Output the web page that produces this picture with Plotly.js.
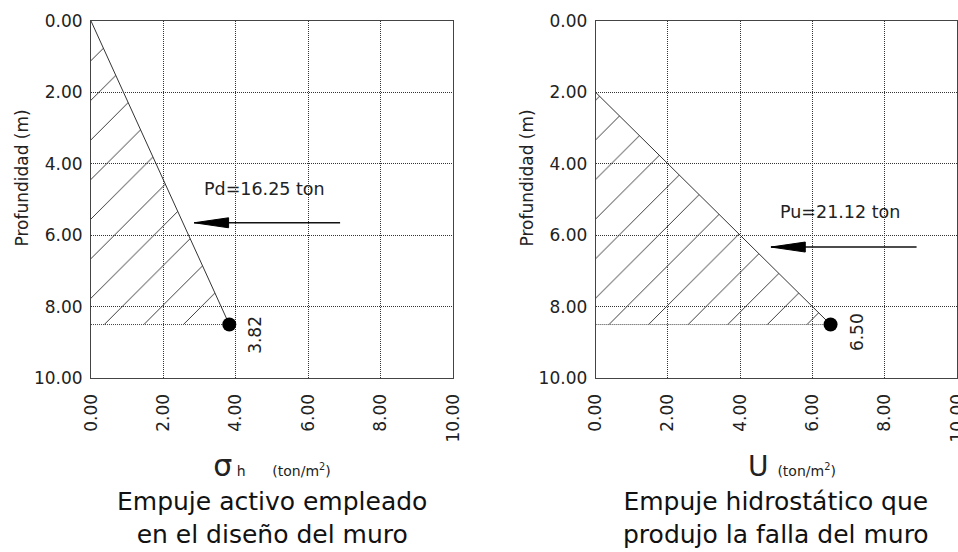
<!DOCTYPE html>
<html>
<head>
<meta charset="utf-8">
<script src="https://cdn.plot.ly/plotly-3.0.1.min.js"></script>
<style>html,body{margin:0;padding:0;background:#fff;}#chart{width:958px;height:552px;}</style>
</head>
<body>
<div id="chart"></div>
<script>
// ---- data ----
// Left: active earth pressure used in wall design
const sigmaX = [0, 3.82];          // sigma_h (ton/m2)
const sigmaDepth = [0, 8.5];       // depth (m)
const sigmaLabel = ['3.82'];
const pdArrowX = [6.88, 2.85];     // force arrow (tail, tip)
const pdArrowY = [5.65, 5.65];
const pdText = 'Pd=16.25 ton';
const pdTextPos = [4.78, 4.7];

// Right: hydrostatic pressure that caused failure
const uX = [0, 6.5];               // u (ton/m2)
const uDepth = [2, 8.5];           // depth (m)
const uLabel = ['6.50'];
const puArrowX = [8.88, 4.85];
const puArrowY = [6.33, 6.33];
const puText = 'Pu=21.12 ton';
const puTextPos = [6.76, 5.35];

const tickVals = [0, 2, 4, 6, 8, 10];
const tickText = ['0.00', '2.00', '4.00', '6.00', '8.00', '10.00'];
const captions = ['Empuje activo empleado<br>en el diseño del muro',
                  'Empuje hidrostático que<br>produjo la falla del muro'];

// ---- helpers ----
const FONT = 'DejaVu Sans, Arial, sans-serif';
const INK = '#222';
const GRID_DASH = '1px,1px';
const PAD8 = '&nbsp;'.repeat(8);

function panelTraces(xs, ys, arrX, arrY, xa, ya) {
  const x0 = xs[0], x1 = xs[1], y0 = ys[0], y1 = ys[1];
  const traces = [];
  // hatched region
  traces.push({
    x: [x0, x1, x0, x0], y: [y0, y1, y1, y0],
    xaxis: xa, yaxis: ya, type: 'scatter', mode: 'lines',
    fill: 'toself', fillcolor: 'rgba(0,0,0,0)',
    fillpattern: {shape: '/', fgcolor: '#3a3a3a', bgcolor: 'rgba(255,255,255,0)', size: 28, solidity: 0.035},
    line: {width: 0}, hoverinfo: 'skip', showlegend: false
  });
  // slanted pressure line
  traces.push({
    x: [x0, x1], y: [y0, y1], xaxis: xa, yaxis: ya, type: 'scatter', mode: 'lines',
    line: {color: '#333', width: 1}, hoverinfo: 'skip', showlegend: false
  });
  // dotted base line
  traces.push({
    x: [x0, x1], y: [y1, y1], xaxis: xa, yaxis: ya, type: 'scatter', mode: 'lines',
    line: {color: '#444', width: 1, dash: '1px,1px'}, hoverinfo: 'skip', showlegend: false
  });
  // end point
  traces.push({
    x: [x1], y: [y1], xaxis: xa, yaxis: ya, type: 'scatter', mode: 'markers',
    marker: {color: '#000', size: 14}, hoverinfo: 'skip', showlegend: false
  });
  // arrow shaft
  traces.push({
    x: arrX, y: arrY, xaxis: xa, yaxis: ya, type: 'scatter', mode: 'lines',
    line: {color: '#111', width: 1.6}, hoverinfo: 'skip', showlegend: false
  });
  // arrow head (narrow triangle at the tip)
  const tip = arrX[1], ay = arrY[1], L = 0.95, h = 0.14;
  traces.push({
    x: [tip, tip + L, tip + L, tip], y: [ay, ay - h, ay + h, ay],
    xaxis: xa, yaxis: ya, type: 'scatter', mode: 'lines', fill: 'toself',
    fillcolor: '#000', line: {color: '#000', width: 1}, hoverinfo: 'skip', showlegend: false
  });
  return traces;
}

const data = [].concat(
  panelTraces(sigmaX, sigmaDepth, pdArrowX, pdArrowY, 'x', 'y'),
  panelTraces(uX, uDepth, puArrowX, puArrowY, 'x2', 'y2')
);

function xAxis(domain, anchor, titleHtml) {
  return {
    domain: domain, anchor: anchor, range: [0, 10],
    tickmode: 'array', tickvals: tickVals, ticktext: tickText, tickangle: -90,
    ticks: '', ticklabelstandoff: 8, ticklabeloverflow: 'allow',
    tickfont: {family: FONT, size: 17, color: INK},
    showgrid: true, gridcolor: '#333', griddash: GRID_DASH, gridwidth: 1,
    zeroline: false, showline: true, mirror: true, linecolor: '#444', linewidth: 1,
    title: {text: titleHtml, font: {family: FONT, size: 14, color: INK}, standoff: 24},
    fixedrange: true
  };
}
function yAxis(domain, anchor) {
  return {
    domain: domain, anchor: anchor, range: [10, 0],
    tickmode: 'array', tickvals: tickVals, ticktext: tickText,
    ticks: '', ticklabelstandoff: 4, ticklabeloverflow: 'allow',
    tickfont: {family: FONT, size: 17, color: INK},
    showgrid: true, gridcolor: '#333', griddash: GRID_DASH, gridwidth: 1,
    zeroline: false, showline: true, mirror: true, linecolor: '#444', linewidth: 1,
    title: {text: PAD8 + 'Profundidad (m)', font: {family: FONT, size: 17, color: INK}, standoff: 0},
    fixedrange: true
  };
}

const yDom = [0.315, 0.962];
const layout = {
  width: 958, height: 552,
  margin: {l: 0, r: 0, t: 0, b: 0},
  paper_bgcolor: '#fff', plot_bgcolor: '#fff',
  showlegend: false,
  xaxis: xAxis([0.095, 0.4729], 'y',
    '<span style="font-size:30px">σ</span> h' + '&nbsp;'.repeat(6) + '(ton/m<sup>2</sup>)'),
  yaxis: yAxis(yDom, 'x'),
  xaxis2: xAxis([0.6218, 0.999], 'y2',
    '&nbsp;'.repeat(7) + '<span style="font-size:28px">U</span>&nbsp;&nbsp;(ton/m<sup>2</sup>)'),
  yaxis2: yAxis(yDom, 'x2'),
  annotations: [
    {x: pdTextPos[0], y: pdTextPos[1], xref: 'x', yref: 'y', text: pdText, showarrow: false,
     font: {family: FONT, size: 17.5, color: INK}},
    {x: puTextPos[0], y: puTextPos[1], xref: 'x2', yref: 'y2', text: puText, showarrow: false,
     font: {family: FONT, size: 17.5, color: INK}},
    {x: sigmaX[1], y: sigmaDepth[1], xref: 'x', yref: 'y', text: sigmaLabel[0], showarrow: false,
     textangle: -90, xshift: 25, yshift: -10, font: {family: FONT, size: 17, color: INK}},
    {x: uX[1], y: uDepth[1], xref: 'x2', yref: 'y2', text: uLabel[0], showarrow: false,
     textangle: -90, xshift: 26, yshift: -8, font: {family: FONT, size: 17, color: INK}},
    {x: 0.284, y: 0.0616, xref: 'paper', yref: 'paper', text: captions[0], showarrow: false,
     xanchor: 'center', yanchor: 'middle', font: {family: FONT, size: 25, color: '#111'}},
    {x: 0.81, y: 0.0616, xref: 'paper', yref: 'paper', text: captions[1], showarrow: false,
     xanchor: 'center', yanchor: 'middle', font: {family: FONT, size: 25, color: '#111'}}
  ]
};

Plotly.newPlot('chart', data, layout, {displayModeBar: false, staticPlot: true});
</script>
</body>
</html>
